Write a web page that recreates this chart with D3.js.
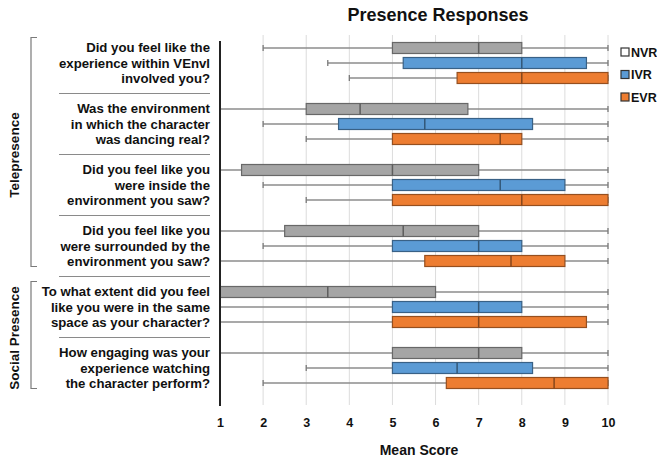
<!DOCTYPE html>
<html>
<head>
<meta charset="utf-8">
<script src="https://cdn.jsdelivr.net/npm/d3@7"></script>
<style>
  html, body { margin: 0; padding: 0; background: #fff; }
  svg { display: block; font-family: "Liberation Sans", Arial, sans-serif; }
</style>
</head>
<body>
<svg id="chart" width="657" height="459"></svg>
<script>
// Survey questions (each label broken into display lines)
const questions = [
  ["Did you feel like the", "experience within VEnvl", "involved you?"],
  ["Was the environment", "in which the character", "was dancing real?"],
  ["Did you feel like you", "were inside the", "environment you saw?"],
  ["Did you feel like you", "were surrounded by the", "environment you saw?"],
  ["To what extent did you feel", "like you were in the same", "space as your character?"],
  ["How engaging was your", "experience watching", "the character perform?"]
];
const groups = ["NVR", "IVR", "EVR"];
const groupColors = ["#a5a5a5", "#5b9bd5", "#ed7d31"];
const xTicks = [1, 2, 3, 4, 5, 6, 7, 8, 9, 10];

// Five-number summaries per question, one array per group: [min, q1, median, q3, max]
const nvrStats = [
  [2, 5, 7, 8, 10],
  [1, 3, 4.25, 6.75, 10],
  [1, 1.5, 5, 7, 10],
  [1, 2.5, 5.25, 7, 10],
  [1, 1, 3.5, 6, 10],
  [1, 5, 7, 8, 10]
];
const ivrStats = [
  [3.5, 5.25, 8, 9.5, 10],
  [2, 3.75, 5.75, 8.25, 10],
  [2, 5, 7.5, 9, 10],
  [2, 5, 7, 8, 10],
  [1, 5, 7, 8, 10],
  [3, 5, 6.5, 8.25, 10]
];
const evrStats = [
  [4, 6.5, 8, 10, 10],
  [3, 5, 7.5, 8, 10],
  [3, 5, 8, 10, 10],
  [1, 5.75, 7.75, 9, 10],
  [1, 5, 7, 9.5, 10],
  [2, 6.25, 8.75, 10, 10]
];
const statsByGroup = [nvrStats, ivrStats, evrStats];

// Question categories shown as brackets on the far left
const sections = [
  { name: "Telepresence", first: 0, last: 3 },
  { name: "Social Presence", first: 4, last: 5 }
];

const svg = d3.select("#chart");
const qIdx = questions.map((d, i) => i);

const x = d3.scaleLinear().domain([1, 10]).range([220, 608]);
const yBand = d3.scaleBand().domain(qIdx).range([32.5, 398.5]).padding(0);
const yGroup = d3.scalePoint().domain(groups).range([-15, 15]);
const yCenter = i => yBand(i) + yBand.bandwidth() / 2;

const plotTop = 35, plotBottom = 405;

// Vertical gridlines
svg.append("g")
  .selectAll("line")
  .data(xTicks.filter(t => t > 1))
  .join("line")
  .attr("x1", d => x(d)).attr("x2", d => x(d))
  .attr("y1", plotTop).attr("y2", plotBottom)
  .attr("stroke", "#dcdcdc").attr("stroke-width", 1);

// Flatten into one record per box
const records = [];
groups.forEach((g, gi) => {
  statsByGroup[gi].forEach((s, qi) => {
    records.push({ q: qi, group: g, color: groupColors[gi],
      min: s[0], q1: s[1], med: s[2], q3: s[3], max: s[4] });
  });
});

const boxH = 11, capH = 6;
const boxes = svg.append("g").selectAll("g")
  .data(records)
  .join("g")
  .attr("transform", d => `translate(0,${yCenter(d.q) + yGroup(d.group)})`);

// Whiskers
boxes.append("line")
  .attr("x1", d => x(d.min)).attr("x2", d => x(d.max))
  .attr("y1", 0).attr("y2", 0)
  .attr("stroke", "#8c8c8c").attr("stroke-width", 1.3);
boxes.selectAll("line.cap")
  .data(d => [d.min, d.max])
  .join("line")
  .attr("class", "cap")
  .attr("x1", v => x(v)).attr("x2", v => x(v))
  .attr("y1", -capH / 2).attr("y2", capH / 2)
  .attr("stroke", "#7a7a7a").attr("stroke-width", 1.3);

// Interquartile boxes
boxes.append("rect")
  .attr("x", d => x(d.q1))
  .attr("y", -boxH / 2)
  .attr("width", d => x(d.q3) - x(d.q1))
  .attr("height", boxH)
  .attr("fill", d => d.color)
  .attr("stroke", d => d3.color(d.color).darker(1.3))
  .attr("stroke-width", 1.2);

// Medians
boxes.append("line")
  .attr("x1", d => x(d.med)).attr("x2", d => x(d.med))
  .attr("y1", -boxH / 2).attr("y2", boxH / 2)
  .attr("stroke", d => d3.color(d.color).darker(1.6))
  .attr("stroke-width", 1.5);

// Left axis line
svg.append("line")
  .attr("x1", x(1)).attr("x2", x(1))
  .attr("y1", 41).attr("y2", 406)
  .attr("stroke", "#222").attr("stroke-width", 2);

// X axis tick labels
const xAxis = d3.axisBottom(x).tickValues(xTicks).tickSize(0).tickPadding(0);
const xAxisG = svg.append("g")
  .attr("transform", "translate(0,418)")
  .call(xAxis);
xAxisG.select(".domain").remove();
xAxisG.selectAll("text")
  .attr("font-family", "'Liberation Sans', Arial, sans-serif")
  .attr("font-size", 12.5)
  .attr("font-weight", "bold")
  .attr("fill", "#111");

svg.append("text")
  .attr("x", 419).attr("y", 455)
  .attr("text-anchor", "middle")
  .attr("font-size", 14).attr("font-weight", "bold").attr("fill", "#111")
  .text("Mean Score");

// Title
svg.append("text")
  .attr("x", 438).attr("y", 21)
  .attr("text-anchor", "middle")
  .attr("font-size", 18).attr("font-weight", "bold").attr("fill", "#111")
  .text("Presence Responses");

// Question labels
const lineOffsets = [-11, 4.5, 20];
const qLabels = svg.append("g").selectAll("text")
  .data(qIdx)
  .join("text")
  .attr("text-anchor", "end")
  .attr("font-size", 13.2)
  .attr("font-weight", "bold")
  .attr("fill", "#111");
qLabels.selectAll("tspan")
  .data(i => questions[i].map((t, k) => ({ t, y: yCenter(i) + lineOffsets[k] })))
  .join("tspan")
  .attr("x", 210)
  .attr("y", d => d.y)
  .text(d => d.t);

// Separators between questions
svg.append("g").selectAll("line")
  .data(qIdx.slice(1))
  .join("line")
  .attr("x1", 59).attr("x2", 210)
  .attr("y1", i => yBand(i)).attr("y2", i => yBand(i))
  .attr("stroke", "#8a8a8a").attr("stroke-width", 1);

// Section brackets and labels
const secG = svg.append("g").selectAll("g")
  .data(sections)
  .join("g");
secG.append("path")
  .attr("d", s => {
    const y0 = yBand(s.first) + 5, y1 = yBand(s.last) + yBand.bandwidth() - 10;
    return `M37,${y0}H31V${y1}H37`;
  })
  .attr("fill", "none").attr("stroke", "#7a7a7a").attr("stroke-width", 1.2);
secG.append("text")
  .attr("transform", s => {
    const y0 = yBand(s.first) + 5, y1 = yBand(s.last) + yBand.bandwidth() - 10;
    return `translate(19,${(y0 + y1) / 2 + 3}) rotate(-90)`;
  })
  .attr("text-anchor", "middle")
  .attr("font-size", 13.5).attr("font-weight", "bold").attr("fill", "#111")
  .text(s => s.name);

// Legend
const legend = svg.append("g").selectAll("g")
  .data(groups)
  .join("g")
  .attr("transform", (g, i) => `translate(621,${52 + i * 22.5})`);
legend.append("rect")
  .attr("x", 0).attr("y", -4).attr("width", 8).attr("height", 8)
  .attr("fill", (g, i) => i === 0 ? "#ffffff" : groupColors[i])
  .attr("stroke", "#333").attr("stroke-width", 1.2);
legend.append("text")
  .attr("x", 10).attr("y", 4.5)
  .attr("font-size", 12.5).attr("font-weight", "bold").attr("fill", "#111")
  .text(g => g);
</script>
</body>
</html>
